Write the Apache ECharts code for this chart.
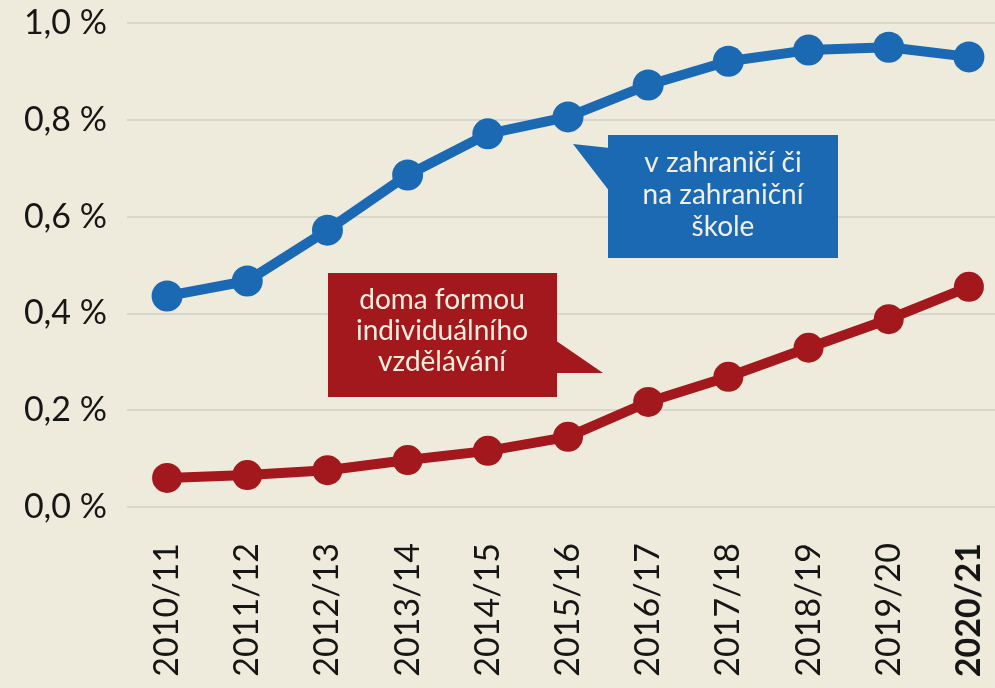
<!DOCTYPE html>
<html>
<head>
<meta charset="utf-8">
<script src="https://cdn.jsdelivr.net/npm/echarts@6/dist/echarts.min.js"></script>
<style>
  html, body { margin: 0; padding: 0; background: #efebdc; }
  #chart { width: 995px; height: 688px; }
</style>
</head>
<body>
<div id="chart"></div>
<script>
// school years
const years = ['2010/11', '2011/12', '2012/13', '2013/14', '2014/15', '2015/16',
  '2016/17', '2017/18', '2018/19', '2019/20', '2020/21']
// share of pupils (%) – abroad or at a foreign school
const abroad = [0.436, 0.467, 0.572, 0.686, 0.771, 0.806, 0.872, 0.921, 0.944, 0.950, 0.930]
// share of pupils (%) – individual education at home
const home = [0.060, 0.066, 0.076, 0.097, 0.116, 0.145, 0.217, 0.269, 0.329, 0.388, 0.455]

const blue = '#1b69b3'
const red = '#a3181d'
const cream = '#f3efdf'
const font = 'Lato'

const chart = echarts.init(document.getElementById('chart'))

chart.setOption({
  backgroundColor: '#efebdc',
  animation: false,
  grid: {
    left: 127,
    top: 23,
    width: 882,
    height: 484,
    outerBoundsMode: 'none'
  },
  xAxis: {
    type: 'category',
    data: years,
    boundaryGap: true,
    axisLine: { show: false },
    axisTick: { show: false },
    axisLabel: {
      rotate: 90,
      margin: 36,
      color: '#161616',
      fontFamily: font,
      fontSize: 34,
      interval: 0,
      formatter: (v) => v === '2020/21' ? '{b|' + v + '}' : v,
      rich: {
        b: { fontWeight: 'bold', fontFamily: font, fontSize: 34, color: '#161616' }
      }
    }
  },
  yAxis: {
    type: 'value',
    min: 0,
    max: 1,
    interval: 0.2,
    axisLine: { show: false },
    axisTick: { show: false },
    axisLabel: {
      margin: 20,
      color: '#161616',
      fontFamily: font,
      fontSize: 34,
      formatter: (v) => v.toFixed(1).replace('.', ',') + ' %'
    },
    splitLine: {
      lineStyle: { color: '#d9d6cc', width: 2 }
    }
  },
  series: [
    {
      name: 'v zahraničí či na zahraniční škole',
      type: 'line',
      data: abroad,
      symbol: 'circle',
      symbolSize: 31,
      lineStyle: { color: blue, width: 10 },
      itemStyle: { color: blue }
    },
    {
      name: 'doma formou individuálního vzdělávání',
      type: 'line',
      data: home,
      symbol: 'circle',
      symbolSize: 30,
      lineStyle: { color: red, width: 10 },
      itemStyle: { color: red }
    }
  ],
  graphic: [
    // blue callout
    {
      type: 'polygon',
      z: 100,
      shape: { points: [[573, 144], [610, 148], [610, 192]] },
      style: { fill: blue }
    },
    {
      type: 'rect',
      z: 100,
      shape: { x: 608, y: 135, width: 230, height: 123 },
      style: { fill: blue }
    },
    {
      type: 'text',
      z: 101,
      x: 723,
      y: 195,
      style: {
        text: 'v zahraničí či\nna zahraniční\nškole',
        fill: cream,
        font: '28px ' + font,
        lineHeight: 32,
        align: 'center',
        verticalAlign: 'middle'
      }
    },
    // red callout
    {
      type: 'polygon',
      z: 100,
      shape: { points: [[555, 340], [603, 373], [555, 373]] },
      style: { fill: red }
    },
    {
      type: 'rect',
      z: 100,
      shape: { x: 328, y: 273, width: 229, height: 124 },
      style: { fill: red }
    },
    {
      type: 'text',
      z: 101,
      x: 442,
      y: 331,
      style: {
        text: 'doma formou\nindividuálního\nvzdělávání',
        fill: cream,
        font: '28px ' + font,
        lineHeight: 31,
        align: 'center',
        verticalAlign: 'middle'
      }
    }
  ]
})
</script>
</body>
</html>
